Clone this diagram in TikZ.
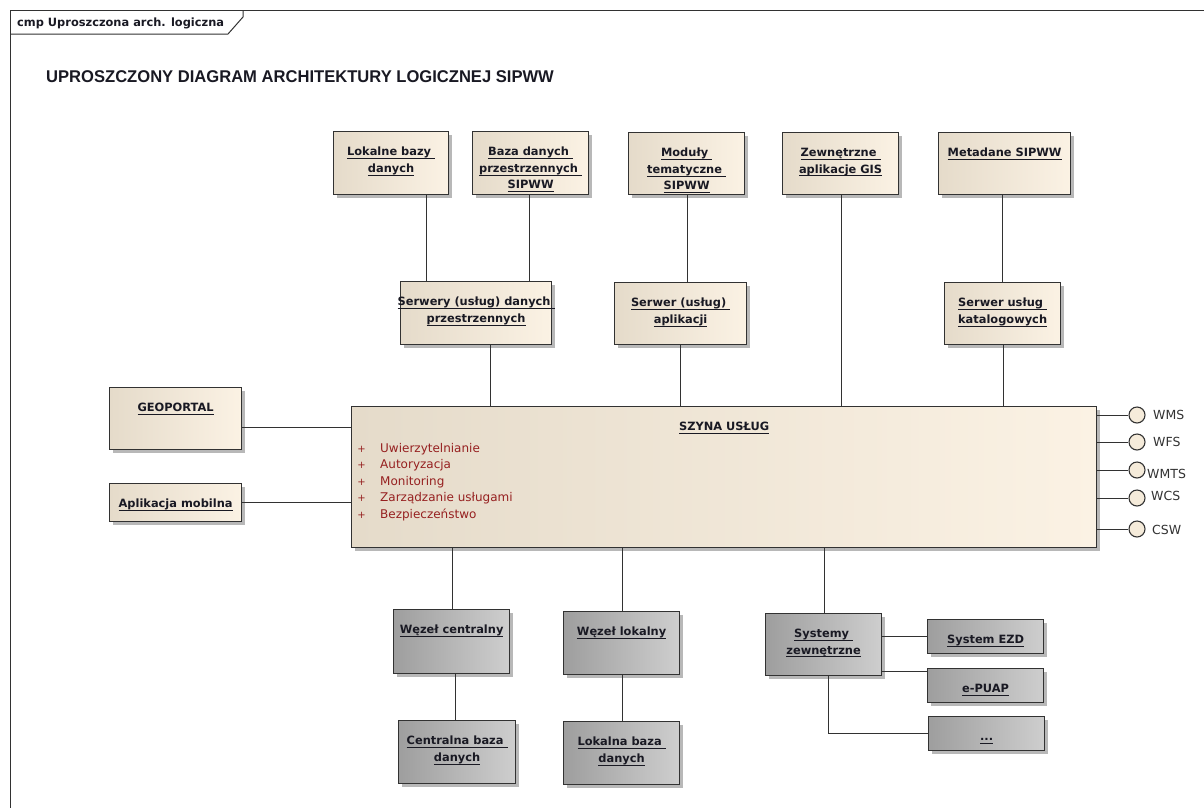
\documentclass[tikz,border=0pt]{standalone}
\usepackage{fontspec}
\setmainfont{DejaVu Sans}
\newfontfamily\titlefont{Liberation Sans}
\usetikzlibrary{shadows}
\definecolor{beigeL}{RGB}{229,219,202}
\definecolor{beigeR}{RGB}{251,242,228}
\definecolor{grayL}{RGB}{158,158,158}
\definecolor{grayR}{RGB}{206,206,206}
\definecolor{edge}{RGB}{50,50,50}
\definecolor{attr}{RGB}{150,32,32}
\definecolor{txt}{RGB}{25,25,35}
\newsavebox\ulsave
\newcommand\ulx[1]{\sbox\ulsave{#1}\rlap{\rule[-3.2pt]{\wd\ulsave}{0.9pt}}\usebox\ulsave}
\newcommand\umlbox[7]{%
  \node[#6, anchor=north west, minimum width={(#4-#2)*1pt}, minimum height={(#5-#3)*1pt}] (#1) at (#2,#3) {};
  \node[boxtext, anchor=north] (#1-t) at ([yshift=-16pt]#1.north) {#7};
}
\begin{document}
\begin{tikzpicture}[x=1pt,y=-1pt,
  basebox/.style={draw=edge, line width=1.2pt, inner sep=0pt,
    drop shadow={shadow xshift=3pt, shadow yshift=-3pt, fill=black, opacity=0.28}},
  beige/.style={basebox, left color=beigeL, right color=beigeR},
  grey/.style={basebox, left color=grayL, right color=grayR},
  boxtext/.style={font=\fontsize{11.4}{16.5}\selectfont\bfseries, text=txt, align=center, inner sep=0pt},
  conn/.style={draw=edge, line width=1pt},
  attrtext/.style={font=\fontsize{12}{14}\selectfont, text=attr, inner sep=0pt, anchor=base west},
  plustext/.style={font=\fontsize{10}{12}\selectfont, text=attr, inner sep=0pt, anchor=base},
  lolly/.style={circle, draw=edge, line width=1.1pt, fill={rgb,255:red,245;green,235;blue,218}, minimum size=16pt, inner sep=0pt},
  lollytext/.style={font=\fontsize{12.5}{14}\selectfont, text=edge, inner sep=0pt, anchor=west}
]
\useasboundingbox (0,0) rectangle (1204,807);
\clip (0,0) rectangle (1204,807);
\fill[white] (0,0) rectangle (1204,807);

% frame and tab
\draw[edge, line width=1pt] (10,830) -- (10,10) -- (1230,10);
\draw[edge, line width=1pt] (10,34) -- (228,34) -- (243,17) -- (243,10);
\node[anchor=west, inner sep=0pt, text=txt, font=\fontsize{11.4}{13}\selectfont\bfseries] (tab) at (17,23) {cmp Uproszczona arch. logiczna};

% title
\node[anchor=base west, inner sep=0pt, text=txt, font=\titlefont\bfseries\fontsize{17}{20}\selectfont] (title) at (46,82)
  {\scalebox{0.975}[1]{UPROSZCZONY DIAGRAM ARCHITEKTURY LOGICZNEJ SIPWW}};

% top row
\umlbox{lok}{333}{131}{448}{194}{beige}{\ulx{Lokalne bazy\ }\\\ulx{danych}}
\umlbox{baza}{472}{131}{588}{194}{beige}{\ulx{Baza danych\ }\\\ulx{przestrzennych\ }\\\ulx{SIPWW}}
\umlbox{mod}{628}{132}{744}{194}{beige}{\ulx{Moduły\ }\\\ulx{tematyczne\ }\\\ulx{SIPWW}}
\umlbox{zew}{782}{132}{898}{194}{beige}{\ulx{Zewnętrzne\ }\\\ulx{aplikacje GIS}}
\umlbox{meta}{938}{132}{1070}{194}{beige}{\ulx{Metadane SIPWW}}

% servers
\umlbox{serw}{400}{281}{551}{344}{beige}{\ulx{Serwery (usług) danych\ }\\\ulx{przestrzennych}}
\umlbox{sapp}{614}{282}{746}{344}{beige}{\ulx{Serwer (usług)\ }\\\ulx{aplikacji}}
\umlbox{kat}{944}{282}{1060}{344}{beige}{\ulx{Serwer usług\ }\\\ulx{katalogowych}}

% left clients
\umlbox{geo}{109}{387}{241}{449}{beige}{\ulx{GEOPORTAL}}
\umlbox{mob}{109}{483}{241}{521}{beige}{\ulx{Aplikacja mobilna}}

% bus
\umlbox{bus}{351}{406}{1096}{547}{beige}{\ulx{SZYNA USŁUG}}
\node[plustext] (p1) at (361.5,452) {+};
\node[plustext] (p2) at (361.5,468.6) {+};
\node[plustext] (p3) at (361.5,485.2) {+};
\node[plustext] (p4) at (361.5,501.8) {+};
\node[plustext] (p5) at (361.5,518.4) {+};
\node[attrtext] (a1) at (380,452) {Uwierzytelnianie};
\node[attrtext] (a2) at (380,468.6) {Autoryzacja};
\node[attrtext] (a3) at (380,485.2) {Monitoring};
\node[attrtext] (a4) at (380,501.8) {Zarządzanie usługami};
\node[attrtext] (a5) at (380,518.4) {Bezpieczeństwo};

% bottom gray
\umlbox{wc}{393}{609}{509}{673}{grey}{\ulx{Węzeł centralny}}
\umlbox{cb}{398}{720}{515}{783}{grey}{\ulx{Centralna baza\ }\\\ulx{danych}}
\umlbox{wl}{563}{611}{679}{674}{grey}{\ulx{Węzeł lokalny}}
\umlbox{lb}{563}{721}{679}{784}{grey}{\ulx{Lokalna baza\ }\\\ulx{danych}}
\umlbox{sys}{765}{613}{881}{675}{grey}{\ulx{Systemy\ }\\\ulx{zewnętrzne}}
\umlbox{ezd}{927}{619}{1043}{653}{grey}{\ulx{System EZD}}
\umlbox{epuap}{927}{668}{1043}{702}{grey}{\ulx{e-PUAP}}
\umlbox{dots}{928}{716}{1044}{750}{grey}{\vphantom{Ł}\ulx{...}}

% connectors
\draw[conn] ([xshift=35pt]lok.south) -- ([xshift=35pt]lok.south |- serw.north);
\draw[conn] ([xshift=-1pt]baza.south) -- ([xshift=-1pt]baza.south |- serw.north);
\draw[conn] ([xshift=14.5pt]serw.south) -- ([xshift=14.5pt]serw.south |- bus.north);
\draw[conn] ([xshift=1pt]mod.south) -- ([xshift=1pt]mod.south |- sapp.north);
\draw[conn] (sapp.south) -- (sapp.south |- bus.north);
\draw[conn] ([xshift=1pt]zew.south) -- ([xshift=1pt]zew.south |- bus.north);
\draw[conn] ([xshift=-2pt]meta.south) -- ([xshift=-2pt]meta.south |- kat.north);
\draw[conn] ([xshift=1pt]kat.south) -- ([xshift=1pt]kat.south |- bus.north);
\draw[conn] ([yshift=-9pt]geo.east) -- ([yshift=-9pt]geo.east -| bus.west);
\draw[conn] (mob.east) -- (mob.east -| bus.west);
\draw[conn] ([xshift=1pt]wc.north) -- ([xshift=1pt]wc.north |- bus.south);
\draw[conn] ([xshift=-1.5pt]cb.north) -- ([xshift=-1.5pt]cb.north |- wc.south);
\draw[conn] ([xshift=1pt]wl.north) -- ([xshift=1pt]wl.north |- bus.south);
\draw[conn] ([xshift=1pt]lb.north) -- ([xshift=1pt]lb.north |- wl.south);
\draw[conn] ([xshift=1pt]sys.north) -- ([xshift=1pt]sys.north |- bus.south);
\draw[conn] (ezd.west) -- (ezd.west -| sys.east);
\draw[conn] ([yshift=14pt]epuap.west) -- ([yshift=14pt]epuap.west -| sys.east);
\draw[conn] ([xshift=5pt]sys.south) |- (dots.west);

% provided interfaces
\node[lolly] (wms) at (1137,415) {};
\node[lolly] (wfs) at (1137,442) {};
\node[lolly] (wmts) at (1137,470) {};
\node[lolly] (wcs) at (1137,498) {};
\node[lolly] (csw) at (1137,529) {};
\node[lollytext] (wmsl) at (1153,415) {WMS};
\node[lollytext] (wfsl) at (1153,442) {WFS};
\node[lollytext] (wmtsl) at (1147,474) {WMTS};
\node[lollytext] (wcsl) at (1151,496) {WCS};
\node[lollytext] (cswl) at (1152,530) {CSW};
\draw[conn] (wms.west) -- (wms.west -| bus.east);
\draw[conn] (wfs.west) -- (wfs.west -| bus.east);
\draw[conn] (wmts.west) -- (wmts.west -| bus.east);
\draw[conn] (wcs.west) -- (wcs.west -| bus.east);
\draw[conn] (csw.west) -- (csw.west -| bus.east);
\end{tikzpicture}
\end{document}
